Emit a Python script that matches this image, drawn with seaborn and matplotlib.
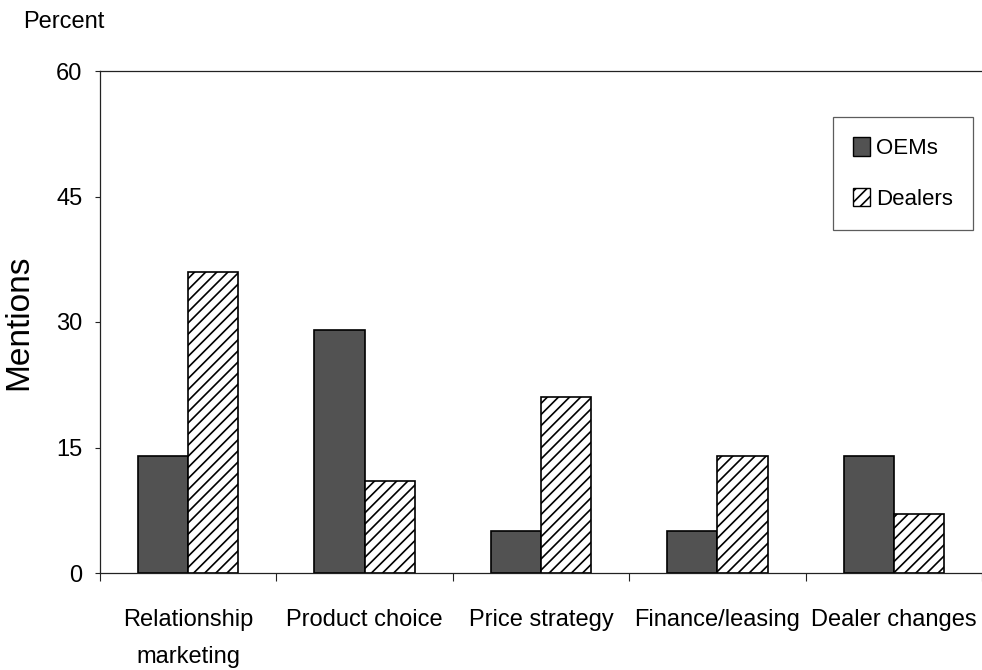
import matplotlib
matplotlib.use("Agg")
import matplotlib.pyplot as plt
import seaborn as sns
import pandas as pd
from matplotlib.patches import Patch

# Data
categories = ["Relationship\nmarketing", "Product choice", "Price strategy",
              "Finance/leasing", "Dealer changes"]
oems = [14, 29, 5, 5, 14]
dealers = [36, 11, 21, 14, 7]
series = ["OEMs", "Dealers"]
y_ticks = [0, 15, 30, 45, 60]

df = pd.DataFrame({
    "category": categories * 2,
    "group": [series[0]] * len(categories) + [series[1]] * len(categories),
    "value": oems + dealers,
})

sns.set_theme(style="white")
plt.rcParams["font.family"] = ["Liberation Sans", "DejaVu Sans"]
plt.rcParams["hatch.linewidth"] = 1.2
plt.rcParams["text.color"] = "black"
plt.rcParams["xtick.color"] = "black"
plt.rcParams["ytick.color"] = "black"
plt.rcParams["axes.labelcolor"] = "black"

fig = plt.figure(figsize=(9.82, 6.70), dpi=100)
ax = fig.add_axes([100 / 982, 97 / 670, 882 / 982, 502 / 670])

dark = "#525252"
sns.barplot(data=df, x="category", y="value", hue="group", order=categories,
            hue_order=series, palette=[dark, "white"], width=0.57,
            edgecolor="black", linewidth=1.2, saturation=1, legend=False, ax=ax)

# hatch the Dealers bars
for bar in ax.containers[1]:
    bar.set_hatch("///")
    bar.set_facecolor("white")
    bar.set_edgecolor("black")

ax.set_ylim(0, 60)
ax.set_xlim(-0.5, len(categories) - 0.5)
ax.set_yticks(y_ticks)
ax.set_xlabel("")
ax.set_ylabel("Mentions", fontsize=24)
ax.yaxis.set_label_coords(-0.074, 0.5)

ax.tick_params(axis="y", length=3.6, width=0.8, pad=9, labelsize=17, left=True,
               color="#222222")
ax.tick_params(axis="x", which="major", length=0, pad=26, labelsize=17)
ax.set_xticks([i - 0.5 for i in range(len(categories) + 1)], minor=True)
ax.tick_params(axis="x", which="minor", length=6, width=0.8, bottom=True,
               color="#222222")
for lab in ax.get_xticklabels():
    lab.set_linespacing(1.9)

for side in ["left", "bottom", "top"]:
    ax.spines[side].set_visible(True)
    ax.spines[side].set_color("#222222")
    ax.spines[side].set_linewidth(0.9)
ax.spines["right"].set_visible(False)

handles = [Patch(facecolor=dark, edgecolor="black", linewidth=1.0),
           Patch(facecolor="white", edgecolor="black", hatch="///", linewidth=1.0)]
leg = ax.legend(handles, series, loc="upper right", bbox_to_anchor=(0.99, 0.908),
                fontsize=16, frameon=True, fancybox=False, labelspacing=1.3,
                handlelength=0.75, handleheight=0.9, handletextpad=0.3,
                borderpad=0.9, borderaxespad=0)
leg.get_frame().set_edgecolor("#333333")
leg.get_frame().set_linewidth(0.9)

fig.text(23 / 982, 1 - 22 / 670, "Percent", fontsize=17, va="center", ha="left")

fig.savefig("out.png", dpi=100)
